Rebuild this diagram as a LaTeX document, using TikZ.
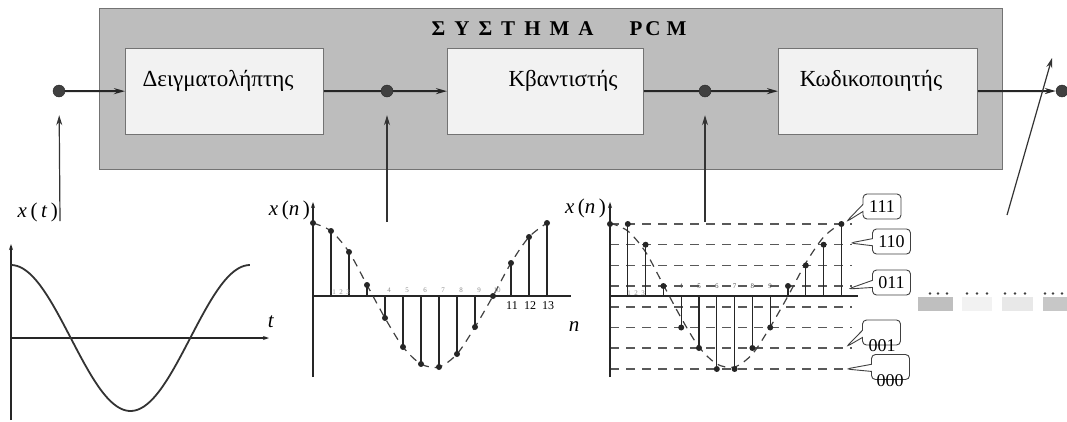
\documentclass[tikz,border=0pt]{standalone}
\usepackage{fontspec}
\setmainfont{Liberation Serif}
\usetikzlibrary{arrows.meta,shapes.callouts}
\newcommand\lsp{\hspace{9pt}}
\begin{document}
\begin{tikzpicture}[x=1pt,y=-1pt,
  blk/.style={draw=black!55, fill=black!5, line width=0.8pt, minimum height=86pt, inner sep=0pt, anchor=north west},
  btxt/.style={font=\fontsize{23}{27}\selectfont, inner sep=0pt},
  dotn/.style={circle, fill=black!75, draw=black!85, minimum size=12pt, inner sep=0pt},
  sig/.style={line width=2pt, draw=black!85},
  arr/.style={-{Stealth[length=11pt,width=6pt]}},
  ptr/.style={line width=1.2pt, draw=black!80, -{Stealth[length=10pt,width=6pt]}},
  ax/.style={line width=1.2pt, draw=black!85},
  curve/.style={line width=1.8pt, draw=black!80},
  env/.style={line width=1.2pt, draw=black!75, dash pattern=on 8pt off 6pt},
  lev/.style={line width=1.2pt, draw=black!65, dash pattern=on 9pt off 7pt},
  stem/.style={line width=1.1pt, draw=black!85},
  smp/.style={circle, fill=black!85, inner sep=0pt, minimum size=6pt},
  lbl/.style={font=\fontsize{21}{24}\selectfont, inner sep=0pt},
  tiny/.style={font=\fontsize{7}{8}\selectfont, text=black!45, inner sep=0pt},
  num/.style={font=\fontsize{12}{13}\selectfont, inner sep=0pt},
  code/.style={font=\fontsize{18}{20}\selectfont, inner sep=0pt},
  call/.style={rectangle callout, draw=black!75, line width=0.9pt, rounded corners=4pt, minimum width=38pt, minimum height=25pt, inner sep=0pt, fill=white}
]
\useasboundingbox (0,0) rectangle (1067,421);

% ---- system box ----
\node[draw=black!55, fill=black!26, line width=0.8pt, minimum width=903pt, minimum height=161pt, inner sep=0pt, anchor=north west] (sys) at (99,8) {};
\node[font=\fontsize{21}{24}\selectfont\bfseries, inner sep=0pt] (title) at (559,29) {Σ\lsp Υ\lsp Σ\lsp Τ\lsp Η\lsp Μ\lsp Α\hspace{36pt}P\hspace{3pt}C\hspace{6pt}M};

\node[blk, minimum width=198pt] (b1) at (125,48) {};
\node[blk, minimum width=196pt] (b2) at (447,48) {};
\node[blk, minimum width=199pt] (b3) at (778,48) {};
\node[btxt] (t1) at (218,81) {Δειγματολήπτης};
\node[btxt] (t2) at (563,81) {Κβαντιστής};
\node[btxt] (t3) at (871,81) {Κωδικοποιητής};

\node[dotn] (d1) at (59,91) {};
\node[dotn] (d2) at (387,91) {};
\node[dotn] (d3) at (705,91) {};
\node[dotn] (d4) at (1062,91) {};

\draw[sig,arr] (d1) -- (b1);
\draw[sig] (b1) -- (d2);
\draw[sig,arr] (d2) -- (b2);
\draw[sig] (b2) -- (d3);
\draw[sig,arr] (d3) -- (b3);
\draw[sig,arr] (b3) -- (d4);

% ---- pointers ----
\coordinate (p1) at (60,221);
\coordinate (p2) at (387,222);
\coordinate (p3) at (705,222);
\coordinate (q1) at (1007,215);
\coordinate (q2) at (1052,58);
\draw[ptr, shorten >=18pt] (p1) -- (d1);
\draw[ptr, shorten >=18pt] (p2) -- (d2);
\draw[ptr, shorten >=18pt] (p3) -- (d3);
\draw[ptr] (q1) -- (q2);

% ---- analog signal ----
\node[lbl, anchor=east] (xt) at (58,212) {\textit{x}\,(\,\textit{t}\,)};
\draw[ax, -{Stealth[length=6pt,width=4pt]}] (11,420) -- (11,244);
\draw[ax, -{Stealth[length=6pt,width=4pt]}] (11,338) -- (269,338);
\node[lbl] (tl) at (271,322) {\textit{t}};
\draw[curve] plot[domain=0:1, samples=80, smooth] ({11+239*\x},{338-73*cos(360*\x)});

% ---- sampled signal ----
\node[lbl, anchor=east] (xn1) at (310,210) {\textit{x}\,(\textit{n}\,)};
\draw[ax, -{Stealth[length=6pt,width=4pt]}] (313,377) -- (313,202);
\draw[ax] (313,296) -- (571,296);
\node[lbl] (nl) at (574,327) {\textit{n}};
\draw[env] plot[smooth] coordinates {(313,223) (331,231) (349,252) (367,285) (385,318) (403,347) (421,364) (439,367) (457,354) (475,327) (493,296) (511,263) (529,237) (547,223)};
\foreach \n/\v in {0/223,1/231,2/252,3/285,4/318,5/347,6/364,7/367,8/354,9/327,10/296,11/263,12/237,13/223}{
  \draw[stem] ({313+18*\n},296) -- ({313+18*\n},\v);
  \node[smp] at ({313+18*\n},\v) {};
}
\foreach \n in {1,2,3}{\node[tiny] at ({327+7*\n},292) {\n};}
\foreach \n in {4,...,10}{\node[tiny] at ({317+18*\n},290) {\n};}
\node[num] (n11) at (512,306) {11};
\node[num] (n12) at (530,306) {12};
\node[num] (n13) at (548,306) {13};

% ---- quantized signal ----
\node[lbl, anchor=east] (xn2) at (606,208) {\textit{x}\,(\textit{n}\,)};
\foreach \l in {224,244.7,265.4,286,307,327.5,348,369}{
  \draw[lev] (610,\l) -- (852,\l);
}
\draw[ax, -{Stealth[length=6pt,width=4pt]}] (610,377) -- (610,202);
\draw[ax] (610,296) -- (858,296);
\draw[env] plot[smooth] coordinates {(610,223) (627.8,231) (645.6,252) (663.4,285) (681.2,318) (699,347) (716.8,364) (734.6,367) (752.4,354) (770.2,327) (788,296) (805.8,263) (823.6,237) (841.4,223)};
\foreach \n/\v in {0/224,1/224,2/244.7,3/286,4/327.5,5/348,6/369,7/369,8/348,9/327.5,10/286,11/265.4,12/244.7,13/224}{
  \draw[stem] ({610+17.8*\n},296) -- ({610+17.8*\n},\v);
  \node[smp] at ({610+17.8*\n},\v) {};
}
\foreach \n in {4,...,9}{\node[tiny, text=black!70] at ({610+17.8*\n},286) {\n};}
\foreach \n in {1,2,3}{\node[tiny] at ({622+7*\n},293) {\n};}

% ---- code callouts ----
\node[call, callout absolute pointer={(846,222)}] (c111) at (882,206.5) {};
\node[code] (k111) at (c111) {111};
\node[call, callout absolute pointer={(850,243)}] (c110) at (891.5,241.5) {};
\node[code] (k110) at (c110) {110};
\node[call, callout absolute pointer={(848,289)}] (c011) at (891.5,282.5) {};
\node[code] (k011) at (c011) {011};
\node[call, callout absolute pointer={(846,347)}] (c001) at (881.5,332.5) {};
\node[code] (k001) at (882,346) {001};
\node[call, callout absolute pointer={(846,369)}] (c000) at (890.5,367) {};
\node[code] (k000) at (890,381) {000};

% ---- bit stream ----
\fill[black!25] (918,297) rectangle (953,311);
\fill[black!5] (962,297) rectangle (992,311);
\fill[black!9] (1002,297) rectangle (1033,311);
\fill[black!22] (1043,297) rectangle (1067,311);
\foreach \x in {930,938,947,967,977,987,1005,1015,1025,1045,1053,1062}{
  \fill[black!75] (\x,293.5) circle (1.3);
}
\end{tikzpicture}
\end{document}
